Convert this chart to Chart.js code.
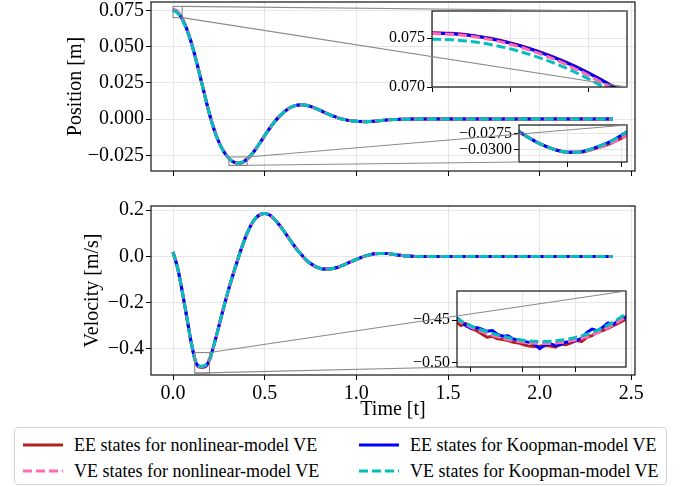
<!DOCTYPE html>
<html><head><meta charset="utf-8">
<script src="https://cdn.jsdelivr.net/npm/chart.js@4.4.0/dist/chart.umd.min.js"></script>
<style>
html,body{margin:0;padding:0;background:#fff;}
#wrap{position:relative;width:683px;height:487px;overflow:hidden;font-family:"Liberation Serif","Times New Roman",serif;}
#wrap canvas{position:absolute;left:0;top:0;}
#legend{position:absolute;left:14px;top:427px;width:653px;height:58px;border:1px solid #d4d4d4;border-radius:4px;box-sizing:border-box;font-size:18px;color:#000;background:#fff;}
.item{position:absolute;display:flex;align-items:center;height:24px;white-space:nowrap;}
.item svg{margin-right:11px;}
</style></head>
<body><div id="wrap">
<canvas id="cTop" width="683" height="487"></canvas>
<canvas id="cBot" width="683" height="487"></canvas>
<canvas id="cIn1" width="683" height="487"></canvas>
<canvas id="cIn2" width="683" height="487"></canvas>
<canvas id="cIn3" width="683" height="487"></canvas>
<div id="legend"></div>
</div>
<script>
// ---------------- data ----------------
const seriesNames = ['EE states for nonlinear-model VE','EE states for Koopman-model VE','VE states for nonlinear-model VE','VE states for Koopman-model VE'];
const timeMain = [0,0.025,0.05,0.075,0.1,0.125,0.15,0.175,0.2,0.225,0.25,0.275,0.3,0.325,0.35,0.375,0.4,0.425,0.45,0.475,0.5,0.525,0.55,0.575,0.6,0.625,0.65,0.675,0.7,0.725,0.75,0.775,0.8,0.825,0.85,0.875,0.9,0.925,0.95,0.975,1.0,1.025,1.05,1.075,1.1,1.125,1.15,1.175,1.2,1.225,1.25,1.275,1.3,1.325,1.35,1.375,1.4,1.5,1.6,1.7,1.8,1.9,2.0,2.1,2.2,2.3,2.4];
const posEEnl = [0.0755,0.0739,0.0692,0.0622,0.0527,0.0412,0.0285,0.0155,0.0030,-0.0075,-0.0158,-0.0220,-0.0264,-0.0293,-0.0304,-0.0302,-0.0282,-0.0252,-0.0210,-0.0163,-0.0114,-0.0067,-0.0025,0.0012,0.0043,0.0068,0.0086,0.0096,0.0099,0.0096,0.0088,0.0076,0.0062,0.0047,0.0033,0.0020,0.0009,0.0000,-0.0007,-0.0012,-0.0015,-0.0017,-0.0018,-0.0017,-0.0014,-0.0011,-0.0008,-0.0005,-0.0003,-0.0002,-0.0001,-0.0001,0,0,0,0,0,0,0,0,0,0,0,0,0,0,0];
const posEEk  = [0.0755,0.0739,0.0692,0.0622,0.0527,0.0412,0.0285,0.0155,0.0030,-0.0075,-0.0158,-0.0220,-0.0264,-0.0293,-0.0304,-0.0301,-0.0278,-0.0250,-0.0209,-0.0162,-0.0114,-0.0067,-0.0025,0.0012,0.0043,0.0068,0.0086,0.0096,0.0099,0.0096,0.0088,0.0076,0.0062,0.0047,0.0033,0.0020,0.0009,0.0000,-0.0007,-0.0012,-0.0015,-0.0017,-0.0018,-0.0017,-0.0014,-0.0011,-0.0008,-0.0005,-0.0003,-0.0002,-0.0001,-0.0001,0,0,0,0,0,0,0,0,0,0,0,0,0,0,0];
const posVEnl = [0.07545,0.0738,0.0690,0.0620,0.0526,0.0411,0.0285,0.0155,0.0030,-0.0075,-0.0158,-0.0220,-0.0264,-0.0293,-0.0304,-0.0302,-0.0282,-0.0252,-0.0210,-0.0163,-0.0114,-0.0067,-0.0025,0.0012,0.0043,0.0068,0.0086,0.0096,0.0099,0.0096,0.0088,0.0076,0.0062,0.0047,0.0033,0.0020,0.0009,0.0000,-0.0007,-0.0012,-0.0015,-0.0017,-0.0018,-0.0017,-0.0014,-0.0011,-0.0008,-0.0005,-0.0003,-0.0002,-0.0001,-0.0001,0,0,0,0,0,0,0,0,0,0,0,0,0,0,0];
const posVEk  = [0.0749,0.0733,0.0686,0.0617,0.0524,0.0410,0.0284,0.0155,0.0030,-0.0075,-0.0158,-0.0220,-0.0264,-0.0293,-0.0304,-0.0301,-0.0278,-0.0250,-0.0209,-0.0162,-0.0114,-0.0067,-0.0025,0.0012,0.0043,0.0068,0.0086,0.0096,0.0099,0.0096,0.0088,0.0076,0.0062,0.0047,0.0033,0.0020,0.0009,0.0000,-0.0007,-0.0012,-0.0015,-0.0017,-0.0018,-0.0017,-0.0014,-0.0011,-0.0008,-0.0005,-0.0003,-0.0002,-0.0001,-0.0001,0,0,0,0,0,0,0,0,0,0,0,0,0,0,0];
const velEEnl = [0.019,-0.050,-0.150,-0.262,-0.375,-0.460,-0.480,-0.478,-0.446,-0.378,-0.303,-0.225,-0.152,-0.085,-0.022,0.038,0.092,0.135,0.165,0.181,0.186,0.180,0.164,0.141,0.115,0.087,0.058,0.031,0.008,-0.014,-0.031,-0.043,-0.051,-0.055,-0.055,-0.052,-0.047,-0.039,-0.030,-0.021,-0.013,-0.005,0.002,0.007,0.011,0.013,0.013,0.012,0.009,0.006,0.004,0.002,0.001,0,0,0,0,0,0,0,0,0,0,0,0,0,0];
const velEEk  = [0.019,-0.050,-0.150,-0.262,-0.375,-0.460,-0.477,-0.476,-0.445,-0.378,-0.303,-0.225,-0.152,-0.085,-0.022,0.038,0.092,0.135,0.165,0.181,0.186,0.180,0.164,0.141,0.115,0.087,0.058,0.031,0.008,-0.014,-0.031,-0.043,-0.051,-0.055,-0.055,-0.052,-0.047,-0.039,-0.030,-0.021,-0.013,-0.005,0.002,0.007,0.011,0.013,0.013,0.012,0.009,0.006,0.004,0.002,0.001,0,0,0,0,0,0,0,0,0,0,0,0,0,0];
const velVEnl = [0.019,-0.050,-0.150,-0.262,-0.375,-0.459,-0.477,-0.474,-0.444,-0.378,-0.303,-0.225,-0.152,-0.085,-0.022,0.038,0.092,0.135,0.165,0.181,0.186,0.180,0.164,0.141,0.115,0.087,0.058,0.031,0.008,-0.014,-0.031,-0.043,-0.051,-0.055,-0.055,-0.052,-0.047,-0.039,-0.030,-0.021,-0.013,-0.005,0.002,0.007,0.011,0.013,0.013,0.012,0.009,0.006,0.004,0.002,0.001,0,0,0,0,0,0,0,0,0,0,0,0,0,0];
const velVEk  = [0.019,-0.050,-0.150,-0.262,-0.375,-0.457,-0.475,-0.471,-0.441,-0.378,-0.303,-0.225,-0.152,-0.085,-0.022,0.038,0.092,0.135,0.165,0.181,0.186,0.180,0.164,0.141,0.115,0.087,0.058,0.031,0.008,-0.014,-0.031,-0.043,-0.051,-0.055,-0.055,-0.052,-0.047,-0.039,-0.030,-0.021,-0.013,-0.005,0.002,0.007,0.011,0.013,0.013,0.012,0.009,0.006,0.004,0.002,0.001,0,0,0,0,0,0,0,0,0,0,0,0,0,0];
const timeTicks = [0,0.5,1,1.5,2,2.5];
const posTicks = [-0.025,0,0.025,0.05,0.075];
const velTicks = [-0.4,-0.2,0,0.2];

// inset 1 : position near t = 0
const tIn1 = [0,0.005,0.01,0.015,0.02,0.025,0.03,0.035,0.04,0.045,0.05];
const in1EEnl = [0.07554,0.07548,0.07529,0.07497,0.07452,0.07395,0.07325,0.07243,0.07148,0.07040,0.06919];
const in1EEk  = [0.07550,0.07544,0.07525,0.07493,0.07448,0.07391,0.07321,0.07239,0.07144,0.07036,0.06915];
const in1VEnl = [0.07545,0.07538,0.07518,0.07484,0.07437,0.07377,0.07304,0.07219,0.07122,0.07012,0.06890];
const in1VEk  = [0.07488,0.07482,0.07464,0.07434,0.07390,0.07333,0.07264,0.07182,0.07086,0.06976,0.06855];
const in1XTicks = [0,0.02,0.04];
const in1YTicks = [0.070,0.075];

// inset 2 : position minimum
const tIn2 = [0.30,0.31,0.32,0.33,0.34,0.35,0.36,0.37,0.38,0.39,0.40,0.41];
const in2EEnl = [-0.0265,-0.0277,-0.0287,-0.0295,-0.0301,-0.0304,-0.0304,-0.0301,-0.0296,-0.0290,-0.0282,-0.0273];
const in2EEk  = [-0.0265,-0.0277,-0.0287,-0.0295,-0.0301,-0.0304,-0.0304,-0.0300,-0.0294,-0.0287,-0.0277,-0.0267];
const in2VEnl = [-0.0265,-0.0277,-0.0287,-0.0295,-0.0301,-0.0304,-0.0304,-0.0301,-0.0296,-0.0290,-0.0282,-0.0273];
const in2VEk  = [-0.0265,-0.0277,-0.0287,-0.0295,-0.0301,-0.0304,-0.0304,-0.0300,-0.0294,-0.0287,-0.0277,-0.0267];
const in2XTicks = [0.35,0.40];
const in2YTicks = [-0.0300,-0.0275];

// inset 3 : velocity minimum
const tIn3 = [0.118,0.1205,0.123,0.1255,0.128,0.1305,0.133,0.1355,0.138,0.1405,0.143,0.1455,0.148,0.1505,0.153,0.1555,0.158,0.1605,0.163,0.1655,0.168,0.1705,0.173,0.1755,0.178,0.1805,0.183,0.1855,0.188,0.1905,0.193,0.1955,0.198,0.2005];
const in3EEnl = [-0.4508,-0.4566,-0.4540,-0.4600,-0.4624,-0.4663,-0.4702,-0.4690,-0.4721,-0.4729,-0.4740,-0.4760,-0.4768,-0.4791,-0.4806,-0.4810,-0.4806,-0.4799,-0.4806,-0.4818,-0.4779,-0.4791,-0.4768,-0.4740,-0.4752,-0.4702,-0.4682,-0.4643,-0.4624,-0.4597,-0.4566,-0.4535,-0.4505,-0.4475];
const in3EEk  = [-0.4465,-0.4510,-0.4568,-0.4598,-0.4588,-0.4608,-0.4632,-0.4622,-0.4668,-0.4690,-0.4685,-0.4722,-0.4736,-0.4752,-0.4762,-0.4782,-0.4836,-0.4792,-0.4778,-0.4800,-0.4790,-0.4760,-0.4752,-0.4740,-0.4712,-0.4645,-0.4606,-0.4625,-0.4585,-0.4535,-0.4548,-0.4508,-0.4478,-0.4435];
const in3VEnl = [-0.4486,-0.4522,-0.4555,-0.4585,-0.4612,-0.4637,-0.4660,-0.4680,-0.4698,-0.4714,-0.4728,-0.4740,-0.4751,-0.4760,-0.4767,-0.4772,-0.4775,-0.4776,-0.4775,-0.4771,-0.4765,-0.4756,-0.4745,-0.4731,-0.4715,-0.4696,-0.4674,-0.4649,-0.4621,-0.4590,-0.4556,-0.4519,-0.4479,-0.4436];
const in3VEk  = [-0.4476,-0.4510,-0.4540,-0.4568,-0.4594,-0.4617,-0.4637,-0.4656,-0.4674,-0.4690,-0.4705,-0.4718,-0.4729,-0.4738,-0.4745,-0.4750,-0.4752,-0.4751,-0.4748,-0.4743,-0.4736,-0.4727,-0.4716,-0.4702,-0.4686,-0.4667,-0.4645,-0.4620,-0.4592,-0.4560,-0.4525,-0.4486,-0.4444,-0.4400];
const in3XTicks = [0.125,0.15,0.175];
const in3YTicks = [-0.50,-0.45];

// ---------------- styling ----------------
const FONT = '"Liberation Serif","Times New Roman",serif';
const GRID = '#e6e6e6';
const STY = [
  {color:'#b22222', dash:[]},
  {color:'#0000ff', dash:[]},
  {color:'#ff69b4', dash:[9,4]},
  {color:'#00bfbf', dash:[9,4]}
];
function ds(t, ys, k, smooth){
  return {label:seriesNames[k], data:t.map((x,i)=>({x:x,y:ys[i]})), borderColor:STY[k].color, borderDash:STY[k].dash,
    borderWidth:3, pointRadius:0, fill:false, tension:0, cubicInterpolationMode: smooth?'monotone':'default', clip:0,
    borderCapStyle:'butt', borderJoinStyle:'round'};
}
function fmt(d){ return v => (v < 0 ? '\u2212' : '') + Math.abs(v).toFixed(d); }
function scale(axis, min, max, ticks, o){
  return {
    type:'linear', position: axis==='x' ? 'bottom' : 'left', min:min, max:max,
    afterBuildTicks: s => { s.ticks = ticks.map(v => ({value:v})); },
    afterFit: s => { if (axis==='x') s.height = o.size; else s.width = o.size;
      s.paddingLeft = 0; s.paddingRight = 0; s.paddingTop = 0; s.paddingBottom = 0; },
    grid:{color:GRID, lineWidth:1, tickColor:'#000', tickLength:5, drawTicks:true},
    border:{display:false},
    ticks:{display:!!o.labels, callback:fmt(o.dec||0), font:{family:FONT, size:o.fs||20}, color:'#000',
      padding:(o.pad!==undefined?o.pad:2), maxRotation:0, autoSkip:false},
    title: o.title ? {display:true, text:o.title, font:{family:FONT,size:20}, color:'#000', padding:0} : {display:false}
  };
}
const framePlugin = {id:'frame', afterDraw(chart){
  const a = chart.chartArea, c = chart.ctx; c.save(); c.strokeStyle = '#111'; c.lineWidth = 1.2;
  c.strokeRect(a.left, a.top, a.right-a.left, a.bottom-a.top); c.restore(); }};
function linksPlugin(main, pairs){
  return {id:'links', afterDraw(chart){
    const a = chart.chartArea, xs = chart.scales.x, ys = chart.scales.y, mx = main.scales.x, my = main.scales.y;
    const bx0 = mx.getPixelForValue(xs.min), bx1 = mx.getPixelForValue(xs.max);
    const by0 = my.getPixelForValue(ys.max), by1 = my.getPixelForValue(ys.min);
    const box = {tl:[bx0,by0], tr:[bx1,by0], bl:[bx0,by1], br:[bx1,by1]};
    const ins = {tl:[a.left,a.top], tr:[a.right,a.top], bl:[a.left,a.bottom], br:[a.right,a.bottom]};
    const c = chart.ctx; c.save(); c.strokeStyle = '#8a8a8a'; c.lineWidth = 1.1;
    c.strokeRect(bx0, by0, bx1-bx0, by1-by0);
    pairs.forEach(k => { c.beginPath(); c.moveTo(box[k][0], box[k][1]); c.lineTo(ins[k][0], ins[k][1]); c.stroke(); });
    c.restore(); }};
}
// Chart.js paints dataset 0 last (on top); reverse so the series stack like the reference
function make(id, datasets, pad, scales, plugins){
  return new Chart(document.getElementById(id), {
    type:'line', data:{datasets:datasets.slice().reverse()},
    options:{responsive:false, animation:false, devicePixelRatio:1, events:[],
      layout:{padding:pad},
      plugins:{legend:{display:false}, tooltip:{enabled:false}},
      scales:scales},
    plugins:[framePlugin].concat(plugins||[])
  });
}

// ---------------- main charts ----------------
const chTop = make('cTop', [ds(timeMain,posEEnl,0,true), ds(timeMain,posEEk,1,true), ds(timeMain,posVEnl,2,true), ds(timeMain,posVEk,3,true)],
  {left:64, right:48, top:2, bottom:306},
  {x: scale('x', -0.12, 2.52, timeTicks, {size:10, labels:false}),
   y: scale('y', -0.0358, 0.0808, posTicks, {size:87, labels:true, dec:3, title:'Position [m]'})});
const chBot = make('cBot', [ds(timeMain,velEEnl,0,true), ds(timeMain,velEEk,1,true), ds(timeMain,velVEnl,2,true), ds(timeMain,velVEk,3,true)],
  {left:81, right:48, top:206, bottom:65},
  {x: scale('x', -0.12, 2.52, timeTicks, {size:47, labels:true, dec:1, pad:2, title:'Time [t]'}),
   y: scale('y', -0.513, 0.218, velTicks, {size:70, labels:true, dec:1, title:'Velocity [m/s]'})});

// ---------------- insets ----------------
make('cIn1', [ds(tIn1,in1EEnl,0,true), ds(tIn1,in1EEk,1,true), ds(tIn1,in1VEnl,2,true), ds(tIn1,in1VEk,3,true)],
  {left:372, right:56, top:11, bottom:394},
  {x: scale('x', 0, 0.05, in1XTicks, {size:6, labels:false}),
   y: scale('y', 0.0700, 0.07776, in1YTicks, {size:60, labels:true, dec:3, fs:16})},
  [linksPlugin(chTop, ['tr','br'])]);
make('cIn2', [ds(tIn2,in2EEnl,0,true), ds(tIn2,in2EEk,1,true), ds(tIn2,in2VEnl,2,true), ds(tIn2,in2VEk,3,true)],
  {left:459, right:56, top:125, bottom:319},
  {x: scale('x', 0.305, 0.405, in2XTicks, {size:6, labels:false}),
   y: scale('y', -0.03196, -0.02611, in2YTicks, {size:60, labels:true, dec:4, fs:16})},
  [linksPlugin(chTop, ['tr','bl'])]);
make('cIn3', [ds(tIn3,in3EEnl,0,false), ds(tIn3,in3EEk,1,false), ds(tIn3,in3VEnl,2,true), ds(tIn3,in3VEk,3,true)],
  {left:397, right:57, top:291, bottom:114},
  {x: scale('x', 0.1187, 0.1991, in3XTicks, {size:6, labels:false}),
   y: scale('y', -0.5051, -0.4159, in3YTicks, {size:60, labels:true, dec:2, fs:16})},
  [linksPlugin(chBot, ['tr','bl'])]);

// ---------------- legend (HTML text) ----------------
const legendOrder = [[0,8,5],[2,8,31],[1,344,5],[3,344,31]];
const lg = document.getElementById('legend');
legendOrder.forEach(([k,x,y]) => {
  const d = document.createElement('div'); d.className = 'item'; d.style.left = x+'px'; d.style.top = y+'px';
  const dash = STY[k].dash.length ? ' stroke-dasharray="9 4"' : '';
  d.innerHTML = '<svg width="40" height="10"><line x1="0" y1="5" x2="40" y2="5" stroke="'+STY[k].color+'" stroke-width="3"'+dash+'/></svg><span>'+seriesNames[k]+'</span>';
  lg.appendChild(d);
});
</script>
</body></html>
